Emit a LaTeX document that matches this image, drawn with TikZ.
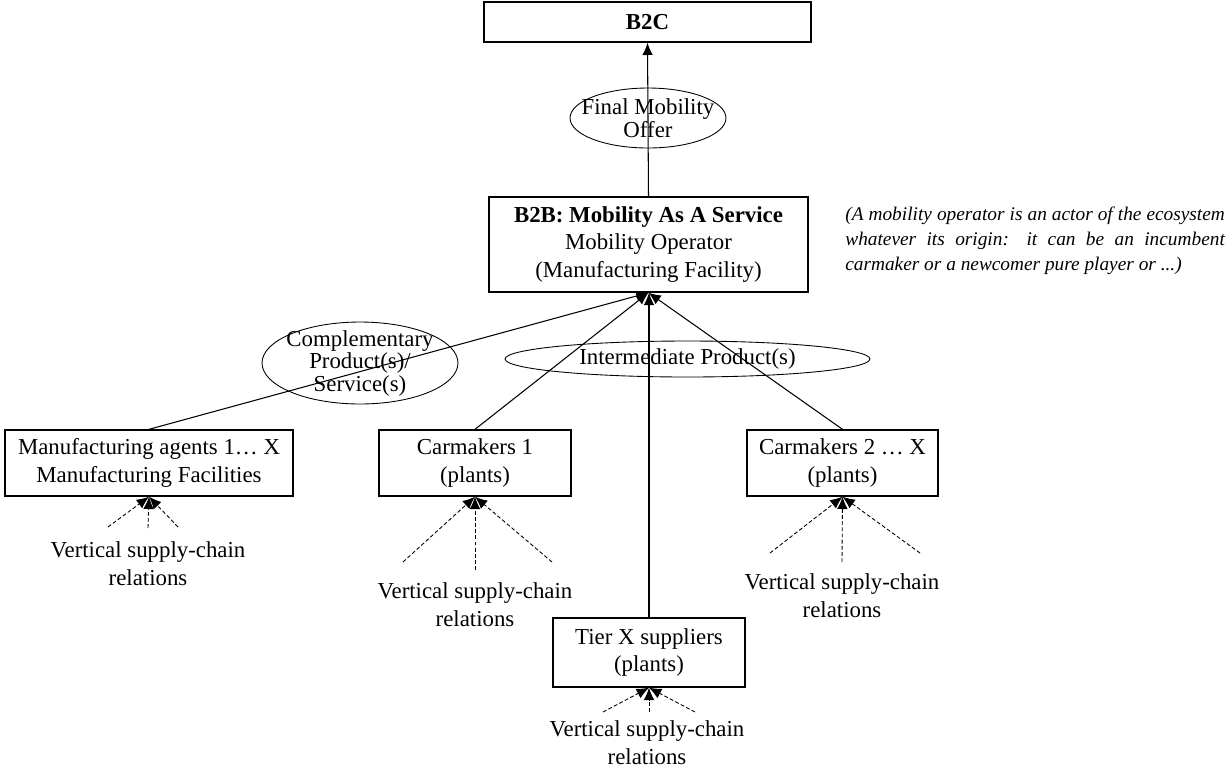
\documentclass[tikz,border=0pt]{standalone}
\usepackage{fontspec}
\setmainfont{Liberation Serif}
\usetikzlibrary{arrows.meta}

\begin{document}
\begin{tikzpicture}[x=0.02cm,y=-0.02cm,
  box/.style={draw, line width=0.8pt, inner sep=0pt, align=center, font=\fontsize{13}{15.9}\selectfont},
  bubble/.style={inner sep=0pt, align=center, font=\fontsize{13}{11.5}\selectfont},
  rim/.style={line width=0.5pt},
  link/.style={line width=0.6pt, -{Latex[length=7pt,width=6pt]}},
  supply/.style={line width=0.5pt, dash pattern=on 2.2pt off 1.3pt, -{Latex[length=7pt,width=6pt]}},
  relation/.style={align=center, inner sep=0pt, font=\fontsize{13}{15.9}\selectfont}]
\useasboundingbox (0,0) rectangle (1228,769);

% Top level
\node[box, minimum width=6.54cm, minimum height=0.8cm] (b2c) at (647.5,22) {\textbf{B2C}};
\node[box, minimum width=6.38cm, minimum height=1.9cm] (b2b) at (648.5,244.5)
  {\textbf{B2B: Mobility As A Service}\\Mobility Operator\\(Manufacturing Facility)};
\draw[link] (b2b.north) -- (b2c.south);
\node[bubble] (offer) at (648,118) {Final Mobility\\Offer};
\draw[rim] (offer.center) ellipse [x radius=1.56cm, y radius=0.6cm];

% Note on the right
\node[align=justify, text width=216pt, inner sep=0pt, anchor=north west,
  font=\fontsize{11}{14.2}\selectfont\itshape] (note) at (845,207)
  {(A mobility operator is an actor of the ecosystem\linebreak whatever its origin: it can be an incumbent\linebreak \mbox{carmaker} or a newcomer pure player or ...)};

% Second level
\node[box, minimum width=5.76cm, minimum height=1.32cm] (agents) at (149,463)
  {Manufacturing agents 1\dots\ X\\Manufacturing Facilities};
\node[box, minimum width=3.84cm, minimum height=1.32cm] (car1) at (475,463) {Carmakers 1\\(plants)};
\node[box, minimum width=3.82cm, minimum height=1.32cm] (carx) at (842.5,463) {Carmakers 2 \dots\ X\\(plants)};
\node[box, minimum width=3.84cm, minimum height=1.38cm] (tier) at (649,652.5) {Tier X suppliers\\(plants)};

\draw[link] (agents.north) -- (b2b.south);
\draw[link] (car1.north) -- (b2b.south);
\draw[link] (carx.north) -- (b2b.south);
\draw[link] (tier.north) -- (tier.north |- b2b.south);

\node[bubble] (compl) at (360,363) {Complementary\\Product(s)/\\Service(s)};
\draw[rim] (compl.center) ellipse [x radius=1.96cm, y radius=0.82cm];
\node[bubble] (inter) at (687.5,359) {Intermediate Product(s)};
\draw[rim] (inter.center) ellipse [x radius=3.65cm, y radius=0.36cm];

% Vertical supply-chain relations
\node[relation] (rel1) at (148,564) {Vertical supply-chain\\relations};
\coordinate (a1) at (108,527); \coordinate (a2) at (148,528); \coordinate (a3) at (178,527);
\foreach \c in {a1,a2,a3} \draw[supply] (\c) -- (agents.south);

\node[relation] (rel2) at (475,605) {Vertical supply-chain\\relations};
\coordinate (b1) at (403,562); \coordinate (b2) at (475,570); \coordinate (b3) at (552,562);
\foreach \c in {b1,b2,b3} \draw[supply] (\c) -- (car1.south);

\node[relation] (rel3) at (842,596) {Vertical supply-chain\\relations};
\coordinate (c1) at (770,553); \coordinate (c2) at (842,562); \coordinate (c3) at (920,553);
\foreach \c in {c1,c2,c3} \draw[supply] (\c) -- (carx.south);

\node[relation] (rel4) at (647,743) {Vertical supply-chain\\relations};
\coordinate (d1) at (603,712); \coordinate (d2) at (649,712); \coordinate (d3) at (695,712);
\foreach \c in {d1,d2,d3} \draw[supply] (\c) -- (tier.south);

\end{tikzpicture}
\end{document}
